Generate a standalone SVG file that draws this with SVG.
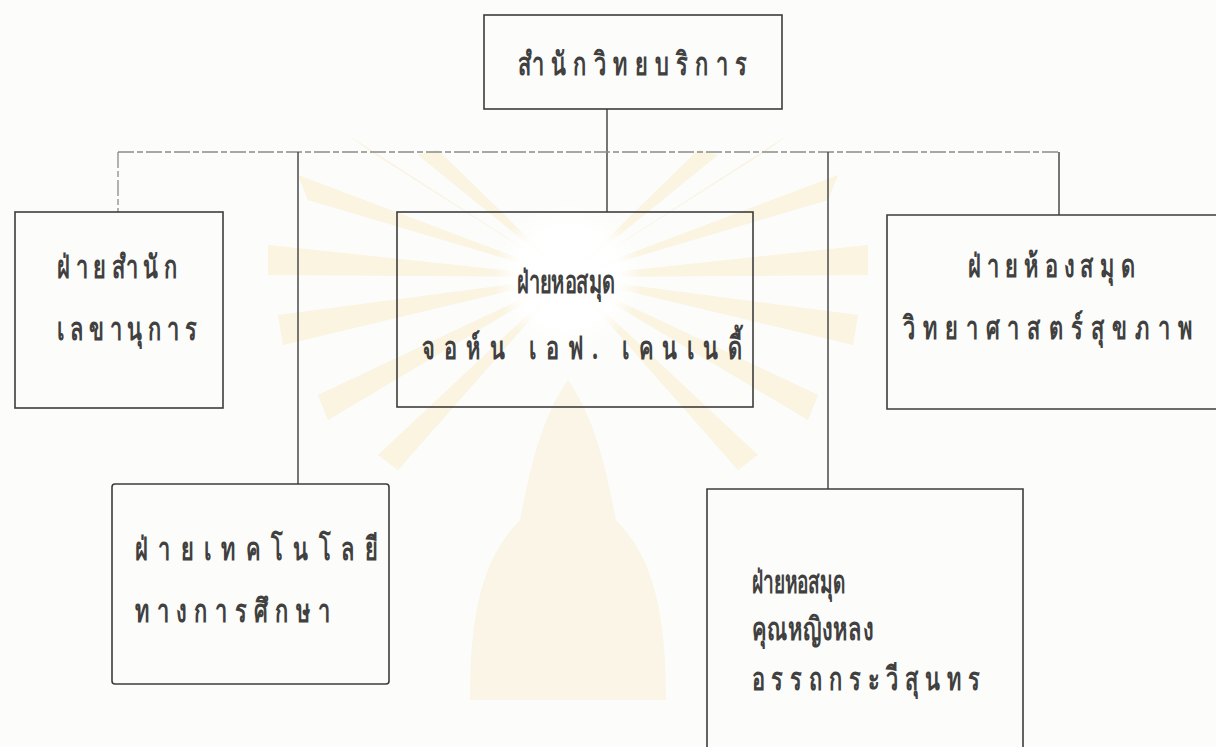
<svg xmlns="http://www.w3.org/2000/svg" width="1216" height="747" viewBox="0 0 1216 747">
  <defs>
    <style>
      .box { fill: none; stroke: #3c3c3c; stroke-width: 1.6; }
      .conn { fill: none; stroke: #4a4a4a; stroke-width: 1.5; }
      .faint { fill: none; stroke: #8a8a8a; stroke-width: 1.3; stroke-dasharray: 16 3 6 3; }
      .lbl { font-family: "Noto Sans", "DejaVu Sans", sans-serif; font-size: 32px; font-weight: bold; fill: #404040; }
      .ray { fill: #f4dc98; opacity: 0.25; }
    </style>
    <radialGradient id="halo" cx="0.5" cy="0.5" r="0.5">
      <stop offset="0" stop-color="#ffffff" stop-opacity="1"/>
      <stop offset="0.7" stop-color="#ffffff" stop-opacity="0.9"/>
      <stop offset="1" stop-color="#ffffff" stop-opacity="0"/>
    </radialGradient>
  </defs>
  <rect width="1216" height="747" fill="#fcfcfa"/>

  <g id="watermark">
    <g transform="translate(568,285)">
      <polygon class="ray" points="0,-8 -300,-40 -300,-10"/>
      <polygon class="ray" points="0,-8 -290,30 -285,60"/>
      <polygon class="ray" points="0,-8 -270,-110 -260,-85"/>
      <polygon class="ray" points="0,-8 -220,-150 -200,-135"/>
      <polygon class="ray" points="0,-8 -150,-130 -130,-135"/>
      <polygon class="ray" points="0,-8 -250,110 -240,135"/>
      <polygon class="ray" points="0,-8 -190,170 -170,185"/>
      <polygon class="ray" points="0,-8 300,-40 300,-10"/>
      <polygon class="ray" points="0,-8 290,30 285,60"/>
      <polygon class="ray" points="0,-8 270,-110 260,-85"/>
      <polygon class="ray" points="0,-8 220,-150 200,-135"/>
      <polygon class="ray" points="0,-8 150,-130 130,-135"/>
      <polygon class="ray" points="0,-8 250,110 240,135"/>
      <polygon class="ray" points="0,-8 190,170 170,185"/>
      <circle cx="0" cy="-8" r="75" fill="url(#halo)"/>
    </g>
    <path d="M568,380 C540,420 530,470 520,520 C480,560 470,620 470,700 L666,700 C666,620 656,560 616,520 C606,470 596,420 568,380 Z" fill="#f4dc98" opacity="0.2"/>
  </g>

  <g id="connectors">
    <line class="conn" x1="607" y1="109" x2="607" y2="212"/>
    <line class="faint" x1="118" y1="152" x2="1059" y2="152"/>
    <line class="faint" x1="118" y1="152" x2="118" y2="212"/>
    <line class="conn" x1="298" y1="152" x2="298" y2="484"/>
    <line class="conn" x1="828" y1="152" x2="828" y2="489"/>
    <line class="conn" x1="1059" y1="152" x2="1059" y2="215"/>
  </g>

  <g id="node-top">
    <rect class="box" x="484" y="15" width="298" height="94"/>
    <text class="lbl" transform="scale(0.68,1)" x="761.76" y="75" textLength="336.76" lengthAdjust="spacing">สำนักวิทยบริการ</text>
  </g>

  <g id="node-secretary">
    <rect class="box" x="15" y="212" width="208" height="196"/>
    <text class="lbl" transform="scale(0.68,1)" x="83.82" y="278" textLength="177.94" lengthAdjust="spacing">ฝ่ายสำนัก</text>
    <text class="lbl" transform="scale(0.68,1)" x="83.82" y="340" textLength="205.88" lengthAdjust="spacing">เลขานุการ</text>
  </g>

  <g id="node-kennedy">
    <rect class="box" x="397" y="212" width="356" height="195"/>
    <text class="lbl" transform="scale(0.68,1)" x="760.29" y="293" textLength="144.12" lengthAdjust="spacingAndGlyphs">ฝ่ายหอสมุด</text>
    <text class="lbl" transform="scale(0.68,1)" x="620.59" y="359" textLength="470.59" lengthAdjust="spacing">จอห์น เอฟ. เคนเนดี้</text>
  </g>

  <g id="node-health">
    <path class="box" d="M1218,215 L887,215 L887,409 L1218,409"/>
    <text class="lbl" transform="scale(0.68,1)" x="1423.53" y="277" textLength="245.59" lengthAdjust="spacing">ฝ่ายห้องสมุด</text>
    <text class="lbl" transform="scale(0.68,1)" x="1327.94" y="339" textLength="425" lengthAdjust="spacing">วิทยาศาสตร์สุขภาพ</text>
  </g>

  <g id="node-edtech">
    <rect class="box" x="112" y="484" width="277" height="200" rx="3"/>
    <text class="lbl" transform="scale(0.68,1)" x="198.53" y="560" textLength="357.35" lengthAdjust="spacing">ฝ่ายเทคโนโลยี</text>
    <text class="lbl" transform="scale(0.68,1)" x="198.53" y="622" textLength="286.76" lengthAdjust="spacing">ทางการศึกษา</text>
  </g>

  <g id="node-khunying">
    <path class="box" d="M707,750 L707,489 L1023,489 L1023,750"/>
    <text class="lbl" transform="scale(0.68,1)" x="1105.88" y="593" textLength="136.76" lengthAdjust="spacingAndGlyphs">ฝ่ายหอสมุด</text>
    <text class="lbl" transform="scale(0.68,1)" x="1105.88" y="640" textLength="177.94" lengthAdjust="spacing">คุณหญิงหลง</text>
    <text class="lbl" transform="scale(0.68,1)" x="1105.88" y="690" textLength="335.29" lengthAdjust="spacing">อรรถกระวีสุนทร</text>
  </g>
</svg>
